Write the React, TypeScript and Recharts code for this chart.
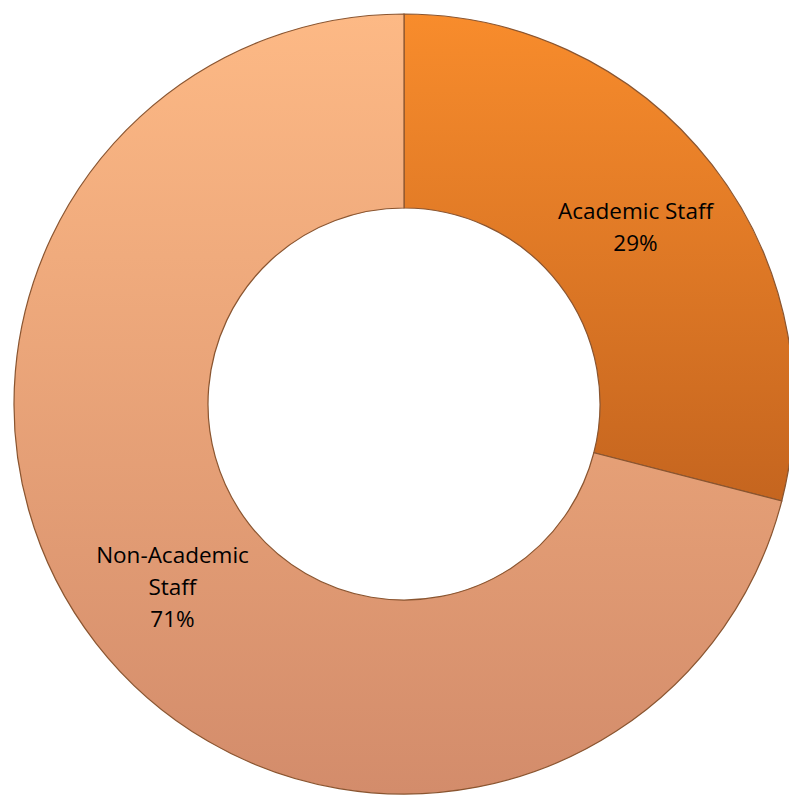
import { PieChart, Pie, Cell } from "recharts";

const categories = ["Academic Staff", "Non-Academic Staff"];
const values = [29, 71];
const wrappedLabels = [["Academic Staff"], ["Non-Academic", "Staff"]];
const gradients = [
  ["#F88C2C", "#C5651F"],
  ["#FDB985", "#D38C6B"],
];

const data = categories.map((name, i) => ({ name, value: values[i] }));

const RADIAN = Math.PI / 180;

interface LabelProps {
  cx?: number;
  cy?: number;
  midAngle?: number;
  innerRadius?: number;
  outerRadius?: number;
  percent?: number;
  index?: number;
}

function SliceLabel({ cx = 0, cy = 0, midAngle = 0, innerRadius = 0, outerRadius = 0, percent = 0, index = 0 }: LabelProps) {
  const r = (innerRadius + outerRadius) / 2;
  const x = cx + r * Math.cos(-midAngle * RADIAN);
  const y = cy + r * Math.sin(-midAngle * RADIAN);
  const lines = [...wrappedLabels[index], `${Math.round(percent * 100)}%`];
  const lineH = 32;
  const top = y - ((lines.length - 1) * lineH) / 2 + 2;
  return (
    <text
      x={x}
      y={top}
      textAnchor="middle"
      dominantBaseline="central"
      fill="#000"
      fontSize={22.5}
      fontFamily="'Open Sans', sans-serif"
    >
      {lines.map((ln, i) => (
        <tspan key={i} x={x} y={top + i * lineH}>
          {ln}
        </tspan>
      ))}
    </text>
  );
}

export default function App() {
  return (
    <div style={{ position: "absolute", left: 0, top: 0, background: "#fff" }}>
      <PieChart width={789} height={799} margin={{ top: 0, right: 0, bottom: 0, left: 0 }}>
        <defs>
          {gradients.map(([a, b], i) => (
            <linearGradient key={i} id={`grad-${i}`} x1="0" y1="0" x2="0" y2="1">
              <stop offset="0%" stopColor={a} />
              <stop offset="100%" stopColor={b} />
            </linearGradient>
          ))}
        </defs>
        <Pie
          data={data}
          dataKey="value"
          nameKey="name"
          cx={404}
          cy={404}
          innerRadius={196}
          outerRadius={390}
          startAngle={90}
          endAngle={-270}
          stroke="#8A5530"
          strokeWidth={1.2}
          label={SliceLabel}
          labelLine={false}
          isAnimationActive={false}
        >
          {data.map((_, i) => (
            <Cell key={`slice-${i}`} fill={`url(#grad-${i})`} />
          ))}
        </Pie>
      </PieChart>
    </div>
  );
}
